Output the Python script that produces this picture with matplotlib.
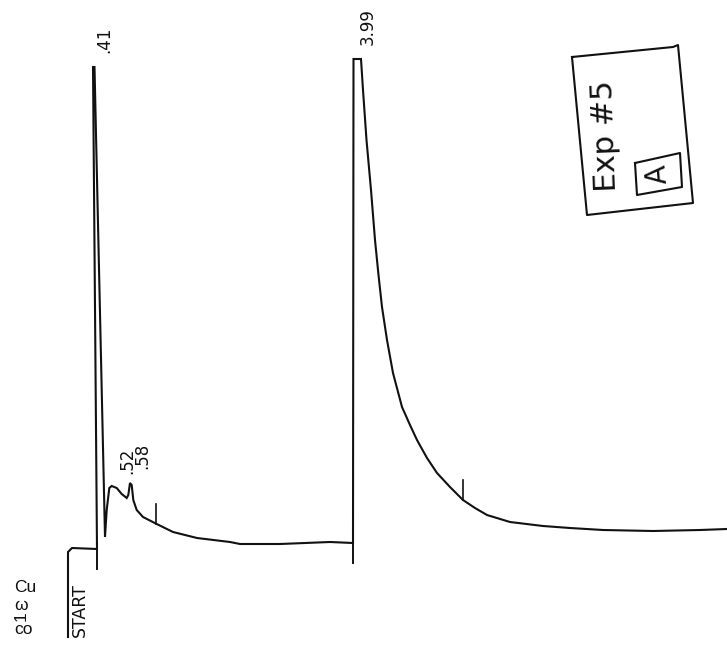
import matplotlib.pyplot as plt

# detector trace, chart position vs response (paper units)
trace_x = [68, 68, 72, 97, 93, 94.5, 105, 106.7, 109.3, 111.7, 116.7, 121.7,
           126.7, 128.3, 130, 131.7, 133.3, 136.7, 143, 156.7, 173, 197, 230,
           240, 280, 330, 353, 353.5, 361, 363, 366.5, 371, 375, 378.5, 382,
           387, 393, 402, 410, 417, 427, 437, 450, 463, 475, 487, 510, 543,
           570, 603, 653, 700, 727]
trace_y = [12, 97, 101, 100, 582, 582, 112, 139, 161, 163, 161, 155,
           151, 154, 166, 164, 149, 139, 132, 125, 117, 111, 107,
           105, 105, 107, 106, 590, 590, 559, 509, 459, 409, 374, 342,
           309, 276, 242, 224, 209, 191, 176, 162, 149, 141, 134, 127, 123,
           121, 119, 118, 119, 120]

# retention times printed by the integrator
peak_labels = ['.41', '.52', '.58', '3.99']
peak_x = [93, 116, 131, 357]
peak_y = [582, 161, 166, 590]

# injection marks (below baseline) and integration ticks (above trace)
inject_x = [97, 353]
inject_y = [100, 106]
tick_x = [156, 463]
tick_y = [125, 149]

# hand-written sample tag
tag_x = [572, 673, 678, 693, 587, 572]
tag_y = [592, 602, 604, 446, 434, 592]
inner_x = [635, 680, 682, 637, 635]
inner_y = [486, 496, 462, 454, 486]

ink = '#111111'
mono = ['DejaVu Sans']

fig = plt.figure(figsize=(7.27, 6.49), dpi=100)
ax = fig.add_axes([0, 0, 1, 1])
ax.set_xlim(0, 727)
ax.set_ylim(0, 649)
ax.axis('off')

ax.plot(trace_x, trace_y, color=ink, lw=1.5, solid_joinstyle='miter')

for x, y in zip(inject_x, inject_y):
    ax.plot([x, x], [y, y - 20], color=ink, lw=1.4)
for x, y in zip(tick_x, tick_y):
    ax.plot([x, x], [y, y + 20], color=ink, lw=1.2)

for lab, x, y in zip(peak_labels, peak_x, peak_y):
    ax.text(x + 20, y + 14, lab, rotation=90, ha='right', va='bottom',
            fontsize=12, family=mono, color=ink)

ax.text(89, 12, 'START', rotation=90, ha='right', va='bottom',
        fontsize=12.5, family=mono, color=ink)

# tag box
ax.plot(tag_x, tag_y, color=ink, lw=1.5)
ax.plot(inner_x, inner_y, color=ink, lw=1.5)
ax.text(606, 513, 'Exp #5', rotation=92, ha='center', va='center',
        fontsize=22, family=mono, color=ink)
ax.text(658, 475, 'A', rotation=95, ha='center', va='center',
        fontsize=20, family=mono, color=ink)

# stray characters at lower left
side = ['Cu', 'ω', '1', 'co']
side_y = [61, 43, 33, 19]
for s, y in zip(side, side_y):
    ax.text(14, y, s, ha='left', va='center', fontsize=12.5,
            family=['Liberation Sans', 'DejaVu Sans'], color=ink,
            rotation=90 if s == '1' else 0)

fig.savefig('out.png', dpi=100)
